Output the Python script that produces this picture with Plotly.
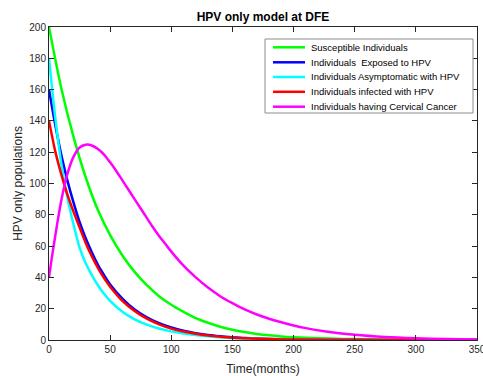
import plotly.graph_objects as go

# ---- data ----
t_green = [0, 10, 20, 30, 40, 50, 60, 70, 80, 90, 100, 110, 120, 130, 140, 150, 160, 170, 180, 190, 200, 220, 240, 260, 280, 300, 325, 350]
susceptible = [200, 161, 130, 104, 83, 67, 54, 43.5, 35, 28, 22.5, 18, 14, 11, 8.5, 6.6, 5.1, 3.9, 3, 2.3, 1.8, 1.1, 0.7, 0.45, 0.3, 0.2, 0.12, 0.08]

t_fast = [0, 5, 10, 15, 20, 25, 30, 35, 40, 45, 50, 60, 70, 80, 90, 100, 110, 120, 130, 140, 150, 160, 180, 200, 250, 300, 350]
exposed = [160, 138, 118.5, 102, 88, 75.5, 65, 56, 48, 41.5, 35.5, 26.5, 19.5, 14.5, 10.7, 8, 5.9, 4.4, 3.2, 2.4, 1.8, 1.3, 0.7, 0.4, 0.1, 0.03, 0]
asymptomatic = [180, 143, 113, 91, 74, 59, 49, 41.5, 35, 29.5, 25, 18, 13.2, 9.8, 7.3, 5.5, 4.2, 3.2, 2.4, 1.8, 1.3, 1.0, 0.55, 0.3, 0.1, 0.03, 0]
infected = [140, 121, 106, 93, 82, 72, 62, 53.5, 46, 39.5, 34, 25, 18.5, 13.6, 10, 7.3, 5.4, 4, 2.9, 2.1, 1.5, 1.1, 0.6, 0.3, 0.08, 0.02, 0]

t_cancer = [0, 2, 5, 10, 15, 20, 25, 30, 35, 40, 45, 50, 55, 60, 65, 70, 75, 80, 85, 90, 95, 100, 110, 120, 130, 140, 150, 160, 170, 180, 190, 200, 210, 225, 250, 275, 300, 325, 350]
cancer = [40, 51, 66, 89, 106, 117, 123, 124.8, 124.3, 122, 118.5, 113.5, 108, 102, 96, 90, 84, 78, 72, 66.5, 61.5, 56.5, 47.5, 40, 33.5, 28, 23.5, 19.5, 16.3, 13.6, 11.3, 9.3, 7.6, 5.6, 3.3, 1.9, 1.1, 0.6, 0.3]

x_ticks = [0, 50, 100, 150, 200, 250, 300, 350]
y_ticks = [0, 20, 40, 60, 80, 100, 120, 140, 160, 180, 200]

series_names = ["Susceptible Individuals", "Individuals  Exposed to HPV",
                "Individuals Asymptomatic with HPV", "Individuals infected with HPV",
                "Individuals having Cervical Cancer"]
series_x = [t_green, t_fast, t_fast, t_fast, t_cancer]
series_y = [susceptible, exposed, asymptomatic, infected, cancer]
series_colors = ["#00ff00", "#0000ff", "#00ffff", "#ff0000", "#ff00ff"]

fig = go.Figure()
for name, xs, ys, col in zip(series_names, series_x, series_y, series_colors):
    fig.add_trace(go.Scatter(x=xs, y=ys, mode="lines", name=name, showlegend=False,
                             line=dict(color=col, width=2.5, shape="spline", smoothing=0.8)))

FONT = "Liberation Sans, Arial, sans-serif"
axis_common = dict(showgrid=False, zeroline=False, showline=True, linecolor="#262626", linewidth=1,
                   ticks="inside", ticklen=5, tickcolor="#262626", mirror="ticks", automargin=False,
                   ticklabeloverflow="allow",
                   tickfont=dict(family=FONT, size=10, color="#262626"))

FW, FH = 483, 376
# plot area in pixels: left 49, right 477, top 27, bottom 340
L, R, T, B = 49, 477, 27, 340
W, H = R - L, B - T

def px_x(p):
    return (p - L) / W

def px_y(p):
    return (B - p) / H

# legend box (drawn with shapes/annotations for compact MATLAB-like spacing)
shapes = [dict(type="rect", xref="paper", yref="paper", x0=px_x(265), x1=px_x(473),
               y0=px_y(113), y1=px_y(39), line=dict(color="#8c8c8c", width=1), fillcolor="white",
               layer="above")]
annotations = []
row_y = [47.3, 62.3, 77.0, 91.8, 106.7]
for name, col, ry in zip(series_names, series_colors, row_y):
    shapes.append(dict(type="line", xref="paper", yref="paper", x0=px_x(273), x1=px_x(305),
                       y0=px_y(ry), y1=px_y(ry), line=dict(color=col, width=2.5), layer="above"))
    annotations.append(dict(text=name, xref="paper", yref="paper", x=px_x(309), y=px_y(ry),
                            xanchor="left", yanchor="middle", showarrow=False,
                            font=dict(family=FONT, size=9.5, color="#000000")))

fig.update_layout(
    width=FW, height=FH,
    margin=dict(l=L, r=FW - R, t=T, b=FH - B),
    paper_bgcolor="white", plot_bgcolor="white",
    font=dict(family=FONT, color="#262626"),
    title=dict(text="<b>HPV only model at DFE</b>", x=0.5, xref="paper", xanchor="center",
               y=1 - 17 / FH, yanchor="middle", font=dict(family=FONT, size=12, color="#000000")),
    xaxis=dict(range=[0, 350], tickvals=x_ticks, ticktext=[str(v) for v in x_ticks],
               title=dict(text="Time(months)", font=dict(family=FONT, size=12, color="#262626"), standoff=10),
               **axis_common),
    yaxis=dict(range=[0, 200], tickvals=y_ticks, ticktext=[str(v) for v in y_ticks],
               title=dict(text="HPV only populations", font=dict(family=FONT, size=12, color="#262626"), standoff=4),
               **axis_common),
    shapes=shapes,
    annotations=annotations,
    showlegend=False,
)

fig.write_html("out.html", config={"displayModeBar": False},
               post_script="document.body.style.margin='0';document.body.style.overflow='hidden';")
